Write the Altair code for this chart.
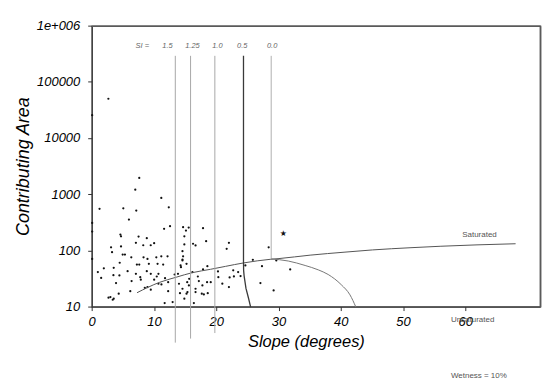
import altair as alt
import pandas as pd

# ---- scatter points (slope in degrees, contributing area) ----
pt_slope = [2.6, 0, 7.56, 6.92, 11.1, 1.18, 5.0, 7.08, 12.3, 5.9, 11.55, 12.5, 14.6, 15.5, 15.06,
            17.8, 14.8, 4.53, 4.63, 7.45, 8.77, 7.02, 9.95, 0, 0, 18.3, 14.8, 8.2, 9.4, 3.03,
            4.63, 16.6, 3.19, 4.9, 5.26, 6.28, 8.25, 8.88, 10.3, 11.1, 12.1, 14.6, 14.5, 0, 4.42,
            7.18, 7.56, 9.1, 10.5, 11.4, 14.2, 1.87, 3.46, 0.91, 1.44, 3.41, 4.37, 5.69, 7.02, 8.77,
            9.41, 10.64, 13.24, 13.78, 16.1, 16.97, 7.72, 10.37, 3.83, 6.33, 7.81, 9.95, 11.7, 10.64, 11.12,
            8.88, 9.41, 8.45, 12.2, 13.94, 15.26, 17.13, 18.45, 6.12, 12.2, 15.53, 16.6, 14.1, 15.15, 16.6,
            17.93, 18.56, 4.26, 2.93, 3.46, 3.3, 2.62, 11.64, 12.92, 16.33, 21.96, 21.6, 28.34, 18.5, 17.8,
            20.2, 22.65, 23.44, 23.83, 22.07, 22.76, 25.8, 27.27, 29.57, 31.8, 27.02, 29.14, 20.26, 20.9, 21.96,
            19.04, 17.7, 24.6, 14.5, 14.5, 15.15, 14.26, 15.58, 14.5, 15.3, 17.6, 14.8, 16.2]
pt_area = [51000, 26000, 1990, 1230, 877, 560, 573, 522, 597, 361, 247, 275, 264, 260, 230,
           253, 182, 195, 182, 180, 168, 139, 137, 315, 221, 149, 130, 126, 126, 116,
           120, 125, 95, 86, 86, 77, 77, 72, 77, 80, 80, 80, 70, 72, 61.5,
           57, 57, 59, 59, 57, 55, 49, 50, 42, 33, 37, 36.5, 43.6, 39, 43.6,
           39, 39, 38, 39, 42, 35, 34, 35, 26.7, 29, 30.7, 30.7, 32.7, 26, 25.3,
           22.7, 20.4, 22, 27.8, 26, 27.8, 29, 27.8, 19.2, 19.2, 24.3, 21.2, 17.7, 17.3, 18.5,
           16.8, 17.7, 17.3, 15.1, 14.1, 13.5, 14.7, 11.8, 12.3, 11.8, 139, 109, 116, 53.5, 46.8,
           43, 45, 42, 35.6, 33.7, 35.1, 69.5, 53.5, 67.5, 46.8, 26.7, 19.8, 34.1, 26.1, 22.7,
           27.8, 24.3, 55, 99, 67.5, 59, 51.3, 31.9, 21.2, 18.5, 17.3, 14.1, 134]

star_slope = [30.7]
star_area = [201]

# ---- saturation line ----
sat_slope = [7.2, 10.8, 13.5, 16.1, 19.0, 21.4, 24.3, 28.7, 30.0, 35.0, 40.6, 45.0, 51.2, 56.0, 61.8, 68.0]
sat_area = [18, 27.5, 34, 41, 47, 53, 61, 71, 73, 84, 95, 104, 114, 121, 128, 134]

# ---- SI lines ----
si_names = ["1.5", "1.25", "1.0"]
si_slope = [13.35, 15.8, 19.7]
si_top = [296000, 296000, 296000]
si_bottom = [2.33, 2.75, 3.45]

# SI = 0.5 boundary (vertical then curve)
si05_slope = [24.3, 24.3, 24.32, 24.4, 24.7, 25.1, 25.45]
si05_area = [296000, 62, 45, 36, 21.5, 14.5, 10]

# SI = 0.0 boundary
si00_vslope = [28.75, 28.75]
si00_varea = [296000, 72]
si00_slope = [28.75, 31.5, 34.2, 36.3, 37.9, 40.0, 41.4, 42.35]
si00_area = [72, 66, 55, 46, 38, 25, 16.5, 10]

# ---- annotations ----
si_lab_text = ["SI =", "1.5", "1.25", "1.0", "0.5", "0.0"]
si_lab_slope = [8.04, 12.1, 16.1, 20.1, 24.1, 28.9]
si_lab_area = [445000] * 6

note_text = ["Saturated", "Unsaturated", "Wetness = 10%"]
note_slope = [62.2, 61.1, 62.1]
note_area = [188, 5.8, 0.587]

X_MAX = 72
Y_MIN, Y_MAX = 10, 1000000

FONT = "Liberation Sans"

xs = alt.Scale(domain=[0, X_MAX], nice=False, zero=False)
ys = alt.Scale(type="log", domain=[Y_MIN, Y_MAX], nice=False)

xax = alt.Axis(values=[0, 10, 20, 30, 40, 50, 60], title="Slope (degrees)", labelFlush=False,
               titleX=215, titleY=40, titleAlign="center", titleBaseline="alphabetic",
               titleFontSize=16.5, labelPadding=5)
yax = alt.Axis(values=[10, 100, 1000, 10000, 100000, 1000000], title="Contributing Area",
               format="d", labelFlush=False,
               labelExpr="datum.value >= 1000000 ? '1e+006' : datum.label",
               titleX=-63, titleY=141, titleAngle=270, titleAlign="center",
               titleBaseline="alphabetic", titleFontSize=18, labelPadding=8)

pts = pd.DataFrame({"slope": pt_slope, "area": pt_area})
points = alt.Chart(pts).mark_circle(size=5, color="#111", opacity=1).encode(
    x=alt.X("slope:Q", scale=xs, axis=xax),
    y=alt.Y("area:Q", scale=ys, axis=yax),
)

sat = alt.Chart(pd.DataFrame({"slope": sat_slope, "area": sat_area})).mark_line(
    color="#555", strokeWidth=1, interpolate="monotone"
).encode(x=alt.X("slope:Q", scale=xs), y=alt.Y("area:Q", scale=ys))

notes = alt.Chart(pd.DataFrame({"slope": note_slope, "area": note_area,
                                "t": note_text})).mark_text(
    font=FONT, fontSize=8, color="#555", baseline="middle", align="center", clip=False
).encode(x=alt.X("slope:Q", scale=xs), y=alt.Y("area:Q", scale=ys), text="t:N")

# frame: top and right border of the plot box
top_border = alt.Chart(pd.DataFrame({"v": [Y_MAX]})).mark_rule(color="#5a5a5a", strokeWidth=1.5).encode(
    y=alt.Y("v:Q", scale=ys))
right_border = alt.Chart(pd.DataFrame({"v": [X_MAX]})).mark_rule(color="#5a5a5a", strokeWidth=1.5).encode(
    x=alt.X("v:Q", scale=xs))

si_df = pd.DataFrame({"si": si_names, "slope": si_slope, "top": si_top, "bottom": si_bottom})
si_rules = alt.Chart(si_df).mark_rule(color="#a8a8a8", strokeWidth=1).encode(
    x=alt.X("slope:Q", scale=xs), y=alt.Y("top:Q", scale=ys), y2="bottom:Q"
)

si05 = alt.Chart(pd.DataFrame({"slope": si05_slope, "area": si05_area,
                               "o": list(range(len(si05_slope)))})).mark_line(
    color="#3a3a3a", strokeWidth=1.3
).encode(x=alt.X("slope:Q", scale=xs), y=alt.Y("area:Q", scale=ys), order="o:Q")

si00v = alt.Chart(pd.DataFrame({"slope": si00_vslope, "area": si00_varea,
                                "o": [0, 1]})).mark_line(
    color="#b0b0b0", strokeWidth=1
).encode(x=alt.X("slope:Q", scale=xs), y=alt.Y("area:Q", scale=ys), order="o:Q")

si00 = alt.Chart(pd.DataFrame({"slope": si00_slope, "area": si00_area,
                               "o": list(range(len(si00_slope)))})).mark_line(
    color="#777", strokeWidth=1, interpolate="monotone"
).encode(x=alt.X("slope:Q", scale=xs), y=alt.Y("area:Q", scale=ys), order="o:Q")

star = alt.Chart(pd.DataFrame({"slope": star_slope, "area": star_area, "t": ["★"]})).mark_text(
    font="DejaVu Sans", fontSize=8, color="#111", baseline="middle", align="center"
).encode(x=alt.X("slope:Q", scale=xs), y=alt.Y("area:Q", scale=ys), text="t:N")

si_labels = alt.Chart(pd.DataFrame({"slope": si_lab_slope, "area": si_lab_area,
                                    "t": si_lab_text})).mark_text(
    font=FONT, fontSize=7.5, fontStyle="italic", color="#666", baseline="middle", align="center"
).encode(x=alt.X("slope:Q", scale=xs), y=alt.Y("area:Q", scale=ys), text="t:N")

chart = alt.layer(
    points, sat, notes, top_border, right_border, si_rules, si00v, si05, si00, star, si_labels
).properties(
    width=450, height=282,
    autosize=alt.AutoSizeParams(type="none"),
    padding={"left": 84.5, "top": 17.5, "right": 1.5, "bottom": 72.5},
).configure_view(
    stroke="#5a5a5a", strokeWidth=1.5
).configure_axis(
    grid=False, domainColor="#333", tickColor="#333", tickSize=4, translate=0,
    labelFont=FONT, labelFontStyle="italic", labelFontSize=13, labelColor="#000",
    titleFont=FONT, titleFontStyle="italic", titleFontWeight="normal", titleColor="#000",
)

chart.save("out.html", embed_options={"renderer": "svg", "actions": False})
